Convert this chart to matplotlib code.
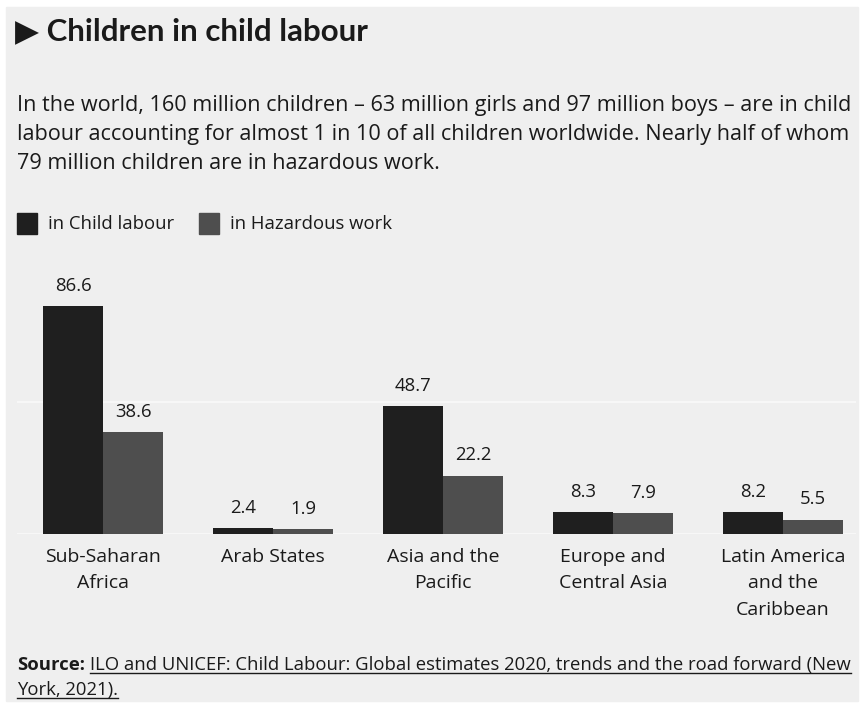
import matplotlib.pyplot as plt
import matplotlib.patches as mpatches
import numpy as np

regions = ['Sub-Saharan\nAfrica', 'Arab States', 'Asia and the\nPacific',
           'Europe and\nCentral Asia', 'Latin America\nand the\nCaribbean']
child_labour = [86.6, 2.4, 48.7, 8.3, 8.2]
hazardous = [38.6, 1.9, 22.2, 7.9, 5.5]

W, H = 860, 703
bg = '#efefef'
dark = '#1f1f1f'
grey = '#4e4e4e'
body_font = 'Open Sans'
fs = 13.3

fig = plt.figure(figsize=(W / 100, H / 100), dpi=100, facecolor='white')

def fx(px):
    return px / W

def fy(py):
    return 1 - py / H

# grey card behind everything
fig.patches.append(mpatches.Rectangle((fx(6), fy(701)), fx(852), 694 / H,
                                      transform=fig.transFigure, color=bg, zorder=-5))

# title + intro
fig.text(fx(15), fy(31), '▶ Children in child labour', fontsize=22.5, fontweight='bold',
         family=['Lato', 'DejaVu Sans'], va='center', color='#1a1a1a')
intro = ('In the world, 160 million children \u2013 63 million girls and 97 million boys \u2013 are in child\n'
         'labour accounting for almost 1 in 10 of all children worldwide. Nearly half of whom\n'
         '79 million children are in hazardous work.')
fig.text(fx(17), fy(95), intro, fontsize=15.6, family=body_font, va='top', color='#1a1a1a',
         linespacing=1.5)

# legend
for x0, lab, c in [(17, 'in Child labour', dark), (199, 'in Hazardous work', grey)]:
    fig.patches.append(mpatches.Rectangle((fx(x0), fy(234)), fx(20), 21 / H,
                                          transform=fig.transFigure, color=c))
    fig.text(fx(x0 + 31), fy(224), lab, fontsize=fs, family=body_font, va='center',
             color='#1a1a1a')

# bars
ax = fig.add_axes([fx(6), fy(534), fx(852), 263.3 / H])
ax.set_facecolor('none')
x = np.arange(len(regions))
bw = 60 / 170
b1 = ax.bar(x - bw / 2, child_labour, bw, color=dark, zorder=3)
b2 = ax.bar(x + bw / 2, hazardous, bw, color=grey, zorder=3)
ax.set_xlim(-97 / 170, 4 + 75 / 170)
ax.set_ylim(0, 100)
for yv in [0, 50]:
    ax.axhline(yv, xmin=12 / 852, xmax=849 / 852, color='#f7f7f7', lw=1.5, zorder=1)
for bars in (b1, b2):
    for r in bars:
        ax.annotate(f'{r.get_height():.1f}', (r.get_x() + r.get_width() / 2, r.get_height()),
                    xytext=(0, 8), textcoords='offset points', ha='center', va='bottom',
                    fontsize=fs, family=body_font, color='#1a1a1a')
ax.set_xticks(x)
ax.set_xticklabels(regions, fontsize=14, family=body_font, color='#1a1a1a', linespacing=1.6)
ax.tick_params(axis='x', length=0, pad=10)
ax.set_yticks([])
for s in ax.spines.values():
    s.set_visible(False)

# source with underline
fig.canvas.draw()
r = fig.canvas.get_renderer()
t0 = fig.text(fx(17), fy(665), 'Source:', fontsize=fs, family=body_font, fontweight='bold',
              va='center', color='#1a1a1a')
bb = t0.get_window_extent(r)
lines = [(bb.x1 + 5, 665, 'ILO and UNICEF: Child Labour: Global estimates 2020, trends and the road forward (New'),
         (17, 690, 'York, 2021).')]
for px, py, s in lines:
    t = fig.text(px / W, fy(py), s, fontsize=fs, family=body_font, va='center', color='#1a1a1a')
    e = t.get_window_extent(r)
    fig.add_artist(plt.Line2D([e.x0 / W, e.x1 / W], [(e.y0 + 1) / H] * 2, color='#1a1a1a',
                              lw=1, transform=fig.transFigure))

fig.savefig('out.png', dpi=100, facecolor='white')
